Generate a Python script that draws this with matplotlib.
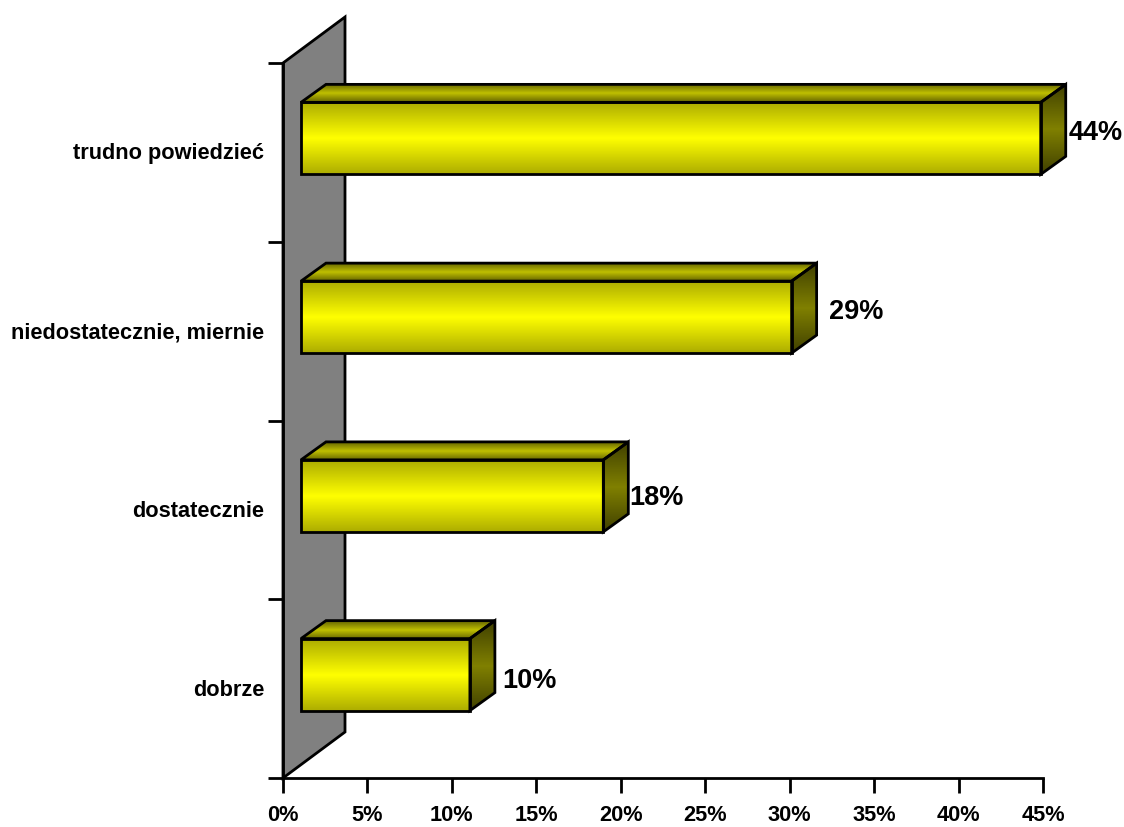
import numpy as np
import matplotlib
matplotlib.use("Agg")
import matplotlib.pyplot as plt
from matplotlib.colors import LinearSegmentedColormap
from matplotlib.patches import Polygon
from matplotlib.transforms import ScaledTranslation

plt.rcParams['font.family'] = ['Liberation Sans', 'DejaVu Sans']
plt.rcParams['font.weight'] = 'bold'

categories = ['dobrze', 'dostatecznie', 'niedostatecznie, miernie', 'trudno powiedzieć']
values = [10.0, 17.9, 29.05, 43.8]
value_labels = ['10%', '18%', '29%', '44%']
x_ticks = [0, 5, 10, 15, 20, 25, 30, 35, 40, 45]

W, H = 1124, 828
PX_X = 45 / 760   # percent per pixel
PX_Y = 4 / 715    # band per pixel

front_cmap = LinearSegmentedColormap.from_list('front', ['#acac00', '#ffff00', '#acac00'])
top_cmap = LinearSegmentedColormap.from_list('top', ['#666600', '#c0c000', '#666600'])
side_cmap = LinearSegmentedColormap.from_list('side', ['#404000', '#808000', '#404000'])


def face(ax, pts, cmap, z):
    """Fill a polygon with a vertical gradient and a black outline."""
    pts = np.array(pts)
    outline = Polygon(pts, closed=True, fc='none', ec='black', lw=2.0, zorder=z + 0.5,
                      joinstyle='miter', clip_on=False)
    ax.add_patch(outline)
    grad = np.linspace(0, 1, 256).reshape(-1, 1)
    im = ax.imshow(grad, cmap=cmap, aspect='auto', origin='upper', zorder=z,
                   extent=[pts[:, 0].min(), pts[:, 0].max(), pts[:, 1].min(), pts[:, 1].max()])
    im.set_clip_box(fig.bbox)
    im.set_clip_path(outline.get_path(), outline.get_transform())


fig = plt.figure(figsize=(W / 100, H / 100), dpi=100)
ax = fig.add_axes([283 / W, 49 / H, 760 / W, 715 / H])

# grey back wall
wall_dx, wall_dy = 62 * PX_X, 46 * PX_Y
ax.add_patch(Polygon([(0, 0), (wall_dx, wall_dy), (wall_dx, 4 + wall_dy), (0, 4)], closed=True,
                     fc='#808080', ec='black', lw=2.0, clip_on=False, zorder=1))

# 3d bars
x0 = 18 * PX_X
half = 36 * PX_Y
lift = 14 * PX_Y
dx, dy = 25 * PX_X, 18 * PX_Y
label_offsets = [(5.3, 6.2), (0.9, 9.5), (9.1, 14.3), (2.3, 14.7)]

for i, v in enumerate(values):
    z = 3 + (len(values) - i) * 2
    yb = i + 0.5 + lift - half
    yt = i + 0.5 + lift + half
    x1 = x0 + v
    face(ax, [(x0, yb), (x1, yb), (x1, yt), (x0, yt)], front_cmap, z)
    face(ax, [(x0, yt), (x1, yt), (x1 + dx, yt + dy), (x0 + dx, yt + dy)], top_cmap, z)
    face(ax, [(x1, yb), (x1 + dx, yb + dy), (x1 + dx, yt + dy), (x1, yt)], side_cmap, z)
    ax.annotate(value_labels[i], (x1 + dx, i + 0.5), xytext=label_offsets[i],
                textcoords='offset points', fontsize=19.5, va='center', ha='left',
                fontweight='bold', zorder=30, annotation_clip=False)

ax.set_xlim(0, 45)
ax.set_ylim(0, 4)

for s in ['top', 'right']:
    ax.spines[s].set_visible(False)
for s in ['left', 'bottom']:
    ax.spines[s].set_linewidth(2.0)
    ax.spines[s].set_zorder(2)

ax.set_xticks(x_ticks)
ax.set_xticklabels([f'{t}%' for t in x_ticks], fontsize=15.7, fontweight='bold')
ax.set_yticks(range(5))
ax.set_yticklabels([])
ax.set_yticks(np.arange(4) + 0.5, categories, minor=True, fontsize=15.7, fontweight='bold')
ax.tick_params(axis='both', which='major', length=11, width=2.0, color='black')
ax.tick_params(axis='x', which='major', pad=8)
ax.tick_params(axis='y', which='minor', length=0, pad=13.5)

# category labels sit a touch above the band centre
up = ScaledTranslation(0, 2 / 100, fig.dpi_scale_trans)
for lab in ax.get_yticklabels(minor=True):
    lab.set_transform(lab.get_transform() + up)

fig.savefig('out.png', dpi=100)
